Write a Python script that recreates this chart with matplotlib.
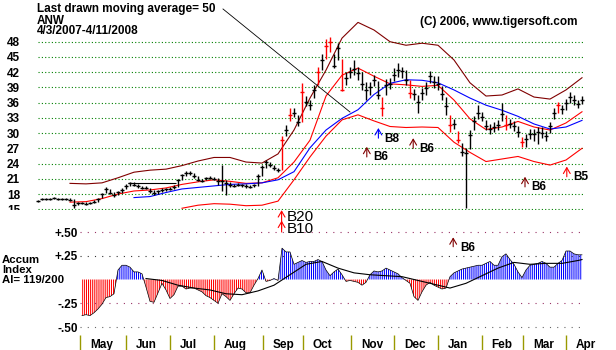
import matplotlib
matplotlib.use("Agg")
import matplotlib.pyplot as plt
import numpy as np

# ANW price bars, one bar every second trading day (4/3/2007 - 4/11/2008)
closes = [16.6, 17.0, 17.1, 17.1, 17.2, 17.1, 17.0, 17.1, 16.9, 15.8,
          16.2, 16.2, 16.1, 16.3, 16.5, 17.0, 18.0, 19.0, 18.3, 17.8,
          18.4, 18.8, 19.6, 20.1, 19.8, 19.5, 19.2, 19.2, 18.6, 18.2,
          18.5, 18.8, 18.9, 19.0, 19.4, 20.8, 21.7, 22.1, 22.1, 21.5,
          20.8, 20.6, 21.1, 21.2, 21.0, 20.6, 20.5, 20.2, 19.8, 19.6,
          19.8, 19.7, 19.5, 19.4, 19.7, 21.5, 23.3, 24.3, 23.7, 23.1,
          22.7, 28.6, 30.6, 33.5, 34.0, 32.2, 38.1, 36.2, 35.5, 38.5,
          42.0, 44.4, 47.2, 47.9, 43.2, 46.8, 38.5, 40.9, 42.0, 42.6,
          41.8, 39.7, 38.5, 39.1, 40.5, 37.5, 34.9, 39.5, 39.7, 41.4,
          42.4, 42.2, 40.5, 37.9, 37.7, 36.1, 37.9, 38.9, 41.2, 40.1,
          39.7, 37.7, 35.3, 31.6, 31.8, 28.6, 26.3, 26.1, 29.6, 32.4,
          34.0, 33.2, 31.4, 30.8, 31.2, 31.6, 33.8, 31.6, 31.8, 31.4,
          30.2, 28.2, 28.8, 29.8, 29.8, 30.2, 30.0, 29.4, 31.4, 34.0,
          35.5, 34.7, 35.9, 37.1, 36.5, 35.7, 36.5]
highs = [16.9, 17.2, 17.3, 17.3, 17.4, 17.3, 17.2, 17.3, 17.2, 17.0,
         16.5, 16.4, 16.4, 16.5, 16.8, 17.3, 18.3, 19.4, 19.0, 18.4,
         18.6, 19.1, 19.9, 20.4, 20.3, 19.9, 19.6, 19.5, 19.2, 18.7,
         18.8, 19.1, 19.2, 19.3, 19.7, 21.0, 22.0, 22.5, 22.5, 22.2,
         21.5, 21.0, 21.4, 21.5, 21.4, 21.2, 23.7, 20.8, 20.4, 20.0,
         20.1, 20.0, 19.9, 19.7, 20.0, 21.9, 23.7, 24.7, 24.4, 23.8,
         23.2, 29.5, 31.5, 34.9, 35.0, 33.5, 39.8, 37.4, 36.5, 39.4,
         43.0, 45.5, 48.5, 49.0, 45.5, 47.7, 44.6, 42.0, 43.0, 44.3,
         43.0, 42.0, 40.0, 40.0, 41.5, 40.2, 37.2, 40.6, 40.9, 42.8,
         43.9, 43.0, 42.5, 40.4, 38.6, 37.5, 38.8, 40.0, 42.2, 41.2,
         41.3, 39.3, 37.2, 33.6, 32.8, 30.4, 28.0, 27.0, 30.6, 33.4,
         35.5, 34.2, 32.6, 31.8, 32.2, 32.6, 35.9, 33.6, 32.8, 32.3,
         31.3, 29.2, 29.8, 30.8, 30.8, 31.2, 31.2, 30.4, 32.2, 35.0,
         36.2, 35.6, 36.8, 38.0, 37.6, 36.6, 37.3]
lows = [16.4, 16.8, 16.9, 16.9, 17.0, 16.9, 16.8, 16.9, 16.7, 15.3,
        15.9, 16.0, 15.9, 16.0, 16.2, 16.5, 17.2, 18.2, 18.0, 17.5,
        17.8, 18.3, 18.9, 19.5, 19.5, 19.2, 18.9, 18.9, 18.3, 17.9,
        18.1, 18.4, 18.6, 18.7, 18.9, 19.4, 20.8, 21.6, 21.7, 21.2,
        20.5, 20.3, 20.7, 20.9, 20.7, 19.8, 18.5, 17.8, 19.4, 19.3,
        19.5, 19.4, 19.2, 19.1, 19.4, 19.6, 21.6, 23.2, 23.4, 22.8,
        22.4, 22.7, 29.5, 32.4, 33.2, 31.3, 32.2, 35.3, 34.6, 37.0,
        39.5, 42.5, 44.5, 46.0, 42.8, 44.4, 38.2, 39.4, 40.8, 41.5,
        40.5, 38.5, 36.5, 37.6, 39.3, 36.8, 33.3, 37.5, 38.6, 40.2,
        41.0, 40.8, 39.5, 37.0, 36.5, 34.0, 36.6, 37.5, 39.8, 38.9,
        38.5, 36.6, 33.6, 30.2, 30.8, 28.0, 25.5, 15.2, 26.8, 30.6,
        32.8, 32.3, 30.6, 29.8, 30.2, 30.6, 32.3, 30.6, 31.0, 30.4,
        29.3, 27.2, 27.3, 28.9, 28.4, 27.8, 29.0, 28.4, 30.0, 32.8,
        33.9, 33.8, 34.6, 36.0, 35.6, 34.9, 35.7]
red_bars = [61, 63, 66, 70, 72, 73, 76, 86, 93, 103, 105, 117, 121, 130]

# bands and moving averages, read every 4th bar
line_idx = list(range(0, 137, 4))
nan = np.nan
upper_band = [nan, nan, 20.1, 20.0, 20.2, 21.2, 22.3, 22.7, 22.9, 23.6,
              24.5, 25.2, 25.2, 24.3, 24.1, 25.9, 30.6, 36.9, 42.4, 48.7,
              51.8, 50.3, 48.0, 47.3, 47.7, 47.3, 44.4, 39.9, 37.3, 37.5,
              38.7, 37.1, 36.7, 38.5, 40.9]
ma_21 = [nan, nan, 16.4, 16.5, 17.1, 18.0, 18.6, 18.8, 19.2, 19.9,
         20.4, 20.8, 20.5, 20.1, 20.2, 21.2, 24.3, 28.6, 37.3, 41.4,
         42.8, 41.2, 39.7, 39.5, 39.2, 39.4, 36.5, 32.8, 30.7, 31.2,
         32.3, 31.2, 30.6, 32.0, 34.2]
ma_50 = [nan, nan, nan, nan, nan, nan, 17.3, 17.5, 18.3, 19.0,
         19.3, 19.6, 19.9, 20.0, 20.2, 20.8, 22.4, 27.1, 30.6, 32.9,
         34.6, 37.6, 39.8, 40.5, 40.4, 39.9, 38.5, 36.9, 35.5, 34.5,
         33.3, 31.8, 30.8, 31.2, 32.5]
lower_band = [nan, nan, nan, nan, nan, nan, nan, nan, nan, 15.2,
              15.8, 16.1, 16.0, 15.7, 15.8, 16.6, 20.8, 25.3, 29.4, 32.6,
              33.6, 32.4, 31.3, 31.1, 31.2, 31.1, 28.2, 26.2, 24.4, 24.9,
              25.4, 24.4, 23.7, 24.7, 27.0]
resist_level = 20.1
resist_span = (22.5, 34.5)

# accumulation index, one value per bar from bar 11
accum_start = 11
accum = [-0.38, -0.37, -0.38, -0.35, -0.31, -0.26, -0.19, -0.18, -0.15, 0.10,
         0.15, 0.15, 0.13, 0.08, 0.08, 0.06, -0.08, -0.23, -0.24, -0.14,
         -0.04, -0.11, -0.20, -0.16, -0.07, -0.07, -0.10, -0.09, -0.09, -0.11,
         -0.13, -0.17, -0.19, -0.22, -0.25, -0.15, -0.18, -0.22, -0.15, -0.09,
         -0.10, -0.14, -0.14, -0.06, 0.01, 0.10, -0.02, -0.01, 0.01, -0.01,
         0.33, 0.29, 0.29, 0.16, 0.18, 0.20, 0.18, 0.19, 0.19, 0.21,
         0.19, 0.10, 0.04, 0.08, 0.11, 0.05, -0.02, -0.01, -0.02, -0.03,
         -0.06, -0.03, 0.05, 0.09, 0.08, 0.09, 0.12, 0.10, 0.08, 0.06,
         0.02, -0.01, -0.04, -0.18, -0.22, -0.13, -0.06, -0.03, -0.06, -0.08,
         -0.10, -0.09, 0.03, 0.07, 0.09, 0.11, 0.12, 0.13, 0.14, 0.15,
         0.15, 0.17, 0.19, 0.15, 0.15, 0.24, 0.27, 0.21, 0.16, 0.08,
         0.02, 0.10, 0.15, 0.16, 0.17, 0.19, 0.17, 0.13, 0.13, 0.17,
         0.20, 0.30, 0.30, 0.27, 0.26, 0.26]
accum_ma_idx = list(range(27, 136, 4)) + [136]
accum_ma = [0.01, -0.01, -0.06, -0.09, -0.11, -0.15, -0.16, -0.12, -0.06, 0.05,
            0.16, 0.19, 0.12, 0.07, 0.05, 0.04, 0.03, -0.01, -0.05, -0.09,
            -0.04, 0.04, 0.12, 0.18, 0.16, 0.17, 0.17, 0.20, 0.21]

price_ticks = [15, 18, 21, 24, 27, 30, 33, 36, 39, 42, 45, 48]
accum_ticks = [0.5, 0.25, -0.25, -0.5]
accum_tick_labels = ["+.50", "+.25", "-.25", "-.50"]
months = ["May", "Jun", "Jul", "Aug", "Sep", "Oct", "Nov", "Dec",
          "Jan", "Feb", "Mar", "Apr"]
month_starts = [10.5, 21.9, 33.0, 44.0, 56.2, 66.2, 78.2, 89.0,
                99.9, 110.9, 121.2, 131.9]

# signal arrows: label, bar, arrow tip, arrow tail, arrow colour
price_signals = [("B8", 85.1, 31.0, 29.0, "#0000ff"),
                 ("B6", 82.2, 27.3, 25.3, "#800000"),
                 ("B6", 93.8, 29.0, 27.0, "#800000"),
                 ("B6", 121.75, 21.4, 19.4, "#800000"),
                 ("B5", 132.2, 23.4, 21.4, "#ff0000")]

plt.rcParams["font.family"] = ["Liberation Sans", "DejaVu Sans"]
plt.rcParams["font.weight"] = "bold"
plt.rcParams["hatch.linewidth"] = 0.75

fig = plt.figure(figsize=(6.16, 3.5), dpi=100)
# price panel spans pixels 30..600 across, 0..215 down
ax = fig.add_axes([30 / 616, 135 / 350, 570 / 616, 215 / 350])
# lower panel spans the full left side so it hides the lower half of "15"
ax2 = fig.add_axes([0, 0, 600 / 616, 140 / 350])
ax.set_zorder(0)
ax2.set_zorder(1)
ax.set_xlim(-2, 140.5)
ax2.set_xlim(-9.5, 140.5)
for a in (ax, ax2):
    for s in a.spines.values():
        s.set_visible(False)
    a.set_xticks([])
ax.set_ylim(13.87, 56.21)
ax2.set_ylim(-0.742, 0.7316)
ax2.set_facecolor("white")

# ---- price panel ----
ax.set_yticks(price_ticks)
ax.tick_params(axis="y", length=0, pad=7.2, labelsize=8.5)
ax.hlines(price_ticks, 0, 136.3, colors="#008000", linestyles=(0, (1, 2)),
          linewidth=0.8)

ax.plot(line_idx, upper_band, color="#800000", lw=0.8)
ax.plot(line_idx, ma_21, color="#ff0000", lw=0.8)
ax.plot(line_idx, ma_50, color="#0000ff", lw=0.8)
ax.plot(line_idx, lower_band, color="#ff0000", lw=0.8)

idx = np.arange(len(closes))
bar_colors = ["#ff0000" if i in red_bars else "black" for i in idx]
ax.vlines(idx, lows, highs, colors=bar_colors, linewidth=1.0)
ax.hlines(closes, idx - 0.5, idx + 0.5, colors=bar_colors, linewidth=1.0)
ax.hlines(resist_level, *resist_span, colors="black", linewidth=0.8)

# pointer from the moving-average note
ax.plot([46.25, 78], [54.44, 34.15], color="black", lw=0.6, clip_on=False)

arrow = "->,head_length=0.6,head_width=0.35"
for label, bx, tip, tail, c in price_signals:
    ax.annotate("", xy=(bx, tip), xytext=(bx, tail),
                arrowprops=dict(arrowstyle=arrow, color=c, lw=0.8,
                                shrinkA=0, shrinkB=0, mutation_scale=7))
    ax.text(bx + 1.5, tail - 0.1, label, fontsize=8.5, ha="left", va="center")

fig.text(37 / 616, 1 - 11.7 / 350, "Last drawn moving average= 50", fontsize=8.5)
fig.text(37 / 616, 1 - 23.5 / 350, "ANW", fontsize=8.5)
fig.text(37 / 616, 1 - 34.5 / 350, "4/3/2007-4/11/2008", fontsize=8.5)
fig.text(420 / 616, 1 - 25 / 350, "(C) 2006, www.tigersoft.com", fontsize=8.5)

# ---- accumulation index panel ----
ax2.set_yticks([])
dot_colors = ["#993366", "#333333", "#993366", "#666666"]
ax2.hlines(accum_ticks, 10.5, 136, colors=dot_colors, linestyles=(0, (1, 5.5)),
           linewidth=0.8)
for v, lab in zip(accum_ticks, accum_tick_labels):
    ax2.text(10, v, lab, fontsize=8.5, ha="right", va="center_baseline")

ai_x = np.arange(accum_start, accum_start + len(accum))
ai = np.array(accum)
ax2.fill_between(ai_x, 0, ai, where=ai < 0, interpolate=True, facecolor="none",
                 edgecolor="#ff0000", hatch="|" * 8, linewidth=0)
ax2.fill_between(ai_x, 0, ai, where=ai >= 0, interpolate=True, facecolor="none",
                 edgecolor="#0000ff", hatch="|" * 8, linewidth=0)
ax2.plot(ai_x, ai, color="black", lw=0.5)
ax2.plot(accum_ma_idx, accum_ma, color="black", lw=0.8)

sig_arrow = dict(arrowstyle=arrow, color="#ff0000", lw=0.8, shrinkA=0,
                 shrinkB=0, mutation_scale=7)
ax2.annotate("", xy=(60.9, 0.73), xytext=(60.9, 0.53), arrowprops=sig_arrow,
             annotation_clip=False)
ax2.annotate("", xy=(60.9, 0.62), xytext=(60.9, 0.50), arrowprops=sig_arrow,
             annotation_clip=False)
ax2.text(62.25, 0.62, "B20", fontsize=11, fontweight="normal", va="baseline")
ax2.text(62.25, 0.485, "B10", fontsize=11, fontweight="normal", va="baseline")
ax2.annotate("", xy=(103.8, 0.444), xytext=(103.8, 0.345),
             arrowprops=dict(sig_arrow, color="#800000"))
ax2.text(105.5, 0.33, "B6", fontsize=8.5, va="center")

ax2.text(-9, 0.17, "Accum", fontsize=8.2, va="baseline")
ax2.text(-9, 0.065, "Index", fontsize=8.2, va="baseline")
ax2.text(-9, -0.04, "AI= 119/200", fontsize=8.2, va="baseline")

ax2.vlines(month_starts, -0.742, -0.584, colors="#999900", linewidth=1.0)
for m, name in zip(month_starts, months):
    ax2.text(m + 2.5, -0.725, name, fontsize=8.5, va="baseline", clip_on=False)

fig.savefig("out.png", dpi=100)
